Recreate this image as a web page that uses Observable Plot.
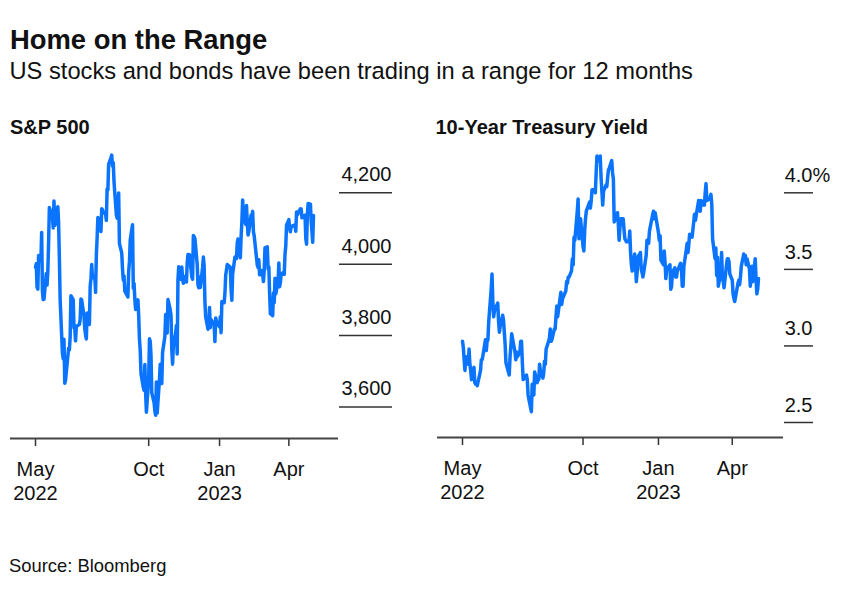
<!DOCTYPE html>
<html><head><meta charset="utf-8">
<script src="https://cdn.jsdelivr.net/npm/d3@7"></script>
<script src="https://cdn.jsdelivr.net/npm/@observablehq/plot@0.6"></script>
<style>
body{margin:0;background:#fff;}
#wrap{position:relative;width:850px;height:593px;font-family:"Liberation Sans",Arial,Helvetica,sans-serif;color:#111;overflow:hidden;}
.t{position:absolute;line-height:1;white-space:nowrap;}
.c{position:absolute;}
</style></head><body>
<div id="wrap">
<div class="t" style="left:10px;top:26.1px;font-size:27.4px;font-weight:bold">Home on the Range</div>
<div class="t" style="left:9.5px;top:59.9px;font-size:23.7px">US stocks and bonds have been trading in a range for 12 months</div>
<div class="t" style="left:10px;top:117.1px;font-size:20px;font-weight:bold">S&amp;P 500</div>
<div class="t" style="left:435.5px;top:117.1px;font-size:20px;font-weight:bold">10-Year Treasury Yield</div>
<div class="c" id="left" style="left:0;top:140px"></div>
<div class="c" id="right" style="left:420px;top:140px"></div>
<div class="t" style="left:9px;top:557.4px;font-size:18.4px">Source: Bloomberg</div>
</div>
<script>
const dates = [
"2022-05-09","2022-05-10","2022-05-11","2022-05-12","2022-05-13","2022-05-16","2022-05-17","2022-05-18","2022-05-19","2022-05-20","2022-05-23","2022-05-24","2022-05-25","2022-05-26","2022-05-27","2022-05-31",
"2022-06-01","2022-06-02","2022-06-03","2022-06-06","2022-06-07","2022-06-08","2022-06-09","2022-06-10","2022-06-13","2022-06-14","2022-06-15","2022-06-16","2022-06-17","2022-06-21","2022-06-22","2022-06-23","2022-06-24","2022-06-27","2022-06-28","2022-06-29","2022-06-30",
"2022-07-01","2022-07-05","2022-07-06","2022-07-07","2022-07-08","2022-07-11","2022-07-12","2022-07-13","2022-07-14","2022-07-15","2022-07-18","2022-07-19","2022-07-20","2022-07-21","2022-07-22","2022-07-25","2022-07-26","2022-07-27","2022-07-28","2022-07-29",
"2022-08-01","2022-08-02","2022-08-03","2022-08-04","2022-08-05","2022-08-08","2022-08-09","2022-08-10","2022-08-11","2022-08-12","2022-08-15","2022-08-16","2022-08-17","2022-08-18","2022-08-19","2022-08-22","2022-08-23","2022-08-24","2022-08-25","2022-08-26","2022-08-29","2022-08-30","2022-08-31",
"2022-09-01","2022-09-02","2022-09-06","2022-09-07","2022-09-08","2022-09-09","2022-09-12","2022-09-13","2022-09-14","2022-09-15","2022-09-16","2022-09-19","2022-09-20","2022-09-21","2022-09-22","2022-09-23","2022-09-26","2022-09-27","2022-09-28","2022-09-29","2022-09-30",
"2022-10-03","2022-10-04","2022-10-05","2022-10-06","2022-10-07","2022-10-10","2022-10-11","2022-10-12","2022-10-13","2022-10-14","2022-10-17","2022-10-18","2022-10-19","2022-10-20","2022-10-21","2022-10-24","2022-10-25","2022-10-26","2022-10-27","2022-10-28","2022-10-31",
"2022-11-01","2022-11-02","2022-11-03","2022-11-04","2022-11-07","2022-11-08","2022-11-09","2022-11-10","2022-11-11","2022-11-14","2022-11-15","2022-11-16","2022-11-17","2022-11-18","2022-11-21","2022-11-22","2022-11-23","2022-11-25","2022-11-28","2022-11-29","2022-11-30",
"2022-12-01","2022-12-02","2022-12-05","2022-12-06","2022-12-07","2022-12-08","2022-12-09","2022-12-12","2022-12-13","2022-12-14","2022-12-15","2022-12-16","2022-12-19","2022-12-20","2022-12-21","2022-12-22","2022-12-23","2022-12-27","2022-12-28","2022-12-29","2022-12-30",
"2023-01-03","2023-01-04","2023-01-05","2023-01-06","2023-01-09","2023-01-10","2023-01-11","2023-01-12","2023-01-13","2023-01-17","2023-01-18","2023-01-19","2023-01-20","2023-01-23","2023-01-24","2023-01-25","2023-01-26","2023-01-27","2023-01-30","2023-01-31",
"2023-02-01","2023-02-02","2023-02-03","2023-02-06","2023-02-07","2023-02-08","2023-02-09","2023-02-10","2023-02-13","2023-02-14","2023-02-15","2023-02-16","2023-02-17","2023-02-21","2023-02-22","2023-02-23","2023-02-24","2023-02-27","2023-02-28",
"2023-03-01","2023-03-02","2023-03-03","2023-03-06","2023-03-07","2023-03-08","2023-03-09","2023-03-10","2023-03-13","2023-03-14","2023-03-15","2023-03-16","2023-03-17","2023-03-20","2023-03-21","2023-03-22","2023-03-23","2023-03-24","2023-03-27","2023-03-28","2023-03-29","2023-03-30","2023-03-31",
"2023-04-03","2023-04-04","2023-04-05","2023-04-06","2023-04-10","2023-04-11","2023-04-12","2023-04-13","2023-04-14","2023-04-17","2023-04-18","2023-04-19","2023-04-20","2023-04-21","2023-04-24","2023-04-25","2023-04-26","2023-04-27","2023-04-28",
"2023-05-01","2023-05-02","2023-05-03","2023-05-04","2023-05-05"
];
const spx = [
3991.24,4001.05,3935.18,3930.08,4023.89,4008.01,4088.85,3923.68,3900.79,3901.36,3973.75,3941.48,3978.73,4057.84,4158.24,4132.15,
4101.23,4176.82,4108.54,4121.43,4160.68,4115.77,4017.82,3900.86,3749.63,3735.48,3789.99,3666.77,3674.84,3764.79,3759.89,3795.73,3911.74,3900.11,3821.55,3818.83,3785.38,
3825.33,3831.39,3845.08,3902.62,3899.38,3854.43,3818.80,3801.78,3790.38,3863.16,3830.85,3936.69,3959.90,3998.95,3961.63,3966.84,3921.05,4023.61,4072.43,4130.29,
4118.63,4091.19,4155.17,4151.94,4145.19,4140.06,4122.47,4210.24,4207.27,4280.15,4297.14,4305.20,4274.04,4283.74,4228.48,4137.99,4128.73,4140.77,4199.12,4057.66,4030.61,3986.16,3955.00,
3966.85,3924.26,3908.19,3979.87,4006.18,4067.36,4110.41,3932.69,3946.01,3901.35,3873.33,3899.89,3855.93,3789.93,3757.99,3693.23,3655.04,3647.29,3719.04,3640.47,3585.62,
3678.43,3790.93,3783.28,3744.52,3639.66,3612.39,3588.84,3577.03,3669.91,3583.07,3677.95,3719.98,3695.16,3665.78,3752.75,3797.34,3859.11,3830.60,3807.30,3901.06,3871.98,
3856.10,3759.69,3719.89,3770.55,3806.80,3828.11,3748.57,3956.37,3992.93,3957.25,3991.73,3958.79,3946.56,3965.34,3949.94,4003.58,4027.26,4026.12,3963.94,3957.63,4080.11,
4076.57,4071.70,3998.84,3941.26,3933.92,3963.51,3934.38,3990.56,4019.65,3995.32,3895.75,3852.36,3817.66,3821.62,3878.44,3822.39,3844.82,3829.25,3783.22,3849.28,3839.50,
3824.14,3852.97,3808.10,3895.08,3892.09,3919.25,3969.61,3983.17,3999.09,3990.97,3928.86,3898.85,3972.61,4019.81,4016.95,4016.22,4060.43,4070.56,4017.77,4076.60,
4119.21,4179.76,4136.48,4111.08,4164.00,4117.86,4081.50,4090.46,4137.29,4136.13,4147.60,4090.41,4079.09,3997.34,3991.05,4012.32,3970.04,3982.24,3970.15,
3951.39,3981.35,4045.64,4048.42,3986.37,3992.01,3918.32,3861.59,3855.76,3919.29,3891.93,3960.28,3916.64,3951.57,4002.87,3936.97,3948.72,3970.99,3977.53,3971.27,4027.81,4050.83,4109.31,
4124.51,4100.60,4090.38,4105.02,4109.11,4108.94,4091.95,4146.22,4137.64,4151.32,4154.87,4154.52,4129.79,4133.52,4137.04,4071.63,4055.99,4135.35,4169.48,
4167.87,4119.58,4090.75,4061.22,4136.25
];
const ust10 = [
3.03,2.99,2.91,2.84,2.93,2.88,2.98,2.88,2.84,2.78,2.86,2.76,2.75,2.75,2.74,2.84,
2.91,2.91,2.94,3.04,2.97,3.03,3.04,3.16,3.37,3.47,3.29,3.19,3.23,3.28,3.16,3.09,3.13,3.20,3.17,3.09,3.01,
2.89,2.81,2.93,3.00,3.08,2.99,2.96,2.91,2.96,2.93,2.96,3.03,3.03,2.89,2.78,2.80,2.81,2.78,2.68,2.65,
2.57,2.75,2.71,2.68,2.83,2.76,2.79,2.78,2.88,2.84,2.79,2.82,2.90,2.88,2.98,3.03,3.05,3.11,3.03,3.04,3.11,3.11,3.19,
3.26,3.19,3.35,3.27,3.31,3.32,3.36,3.42,3.41,3.45,3.45,3.49,3.57,3.53,3.71,3.69,3.88,3.96,3.70,3.76,3.83,
3.65,3.62,3.75,3.83,3.88,null,3.94,3.90,3.95,4.02,4.02,4.00,4.13,4.24,4.21,4.24,4.10,4.01,3.92,4.01,4.05,
4.04,4.10,4.15,4.16,4.21,4.13,4.09,3.81,null,3.87,3.80,3.69,3.77,3.83,3.83,3.76,3.70,3.68,3.68,3.75,3.61,
3.53,3.49,3.60,3.53,3.42,3.48,3.58,3.61,3.50,3.48,3.45,3.48,3.59,3.69,3.67,3.67,3.75,3.86,3.88,3.83,3.87,
3.74,3.69,3.72,3.56,3.53,3.62,3.55,3.44,3.50,3.53,3.37,3.39,3.48,3.51,3.45,3.45,3.49,3.50,3.54,3.51,
3.39,3.39,3.52,3.63,3.67,3.61,3.66,3.73,3.71,3.76,3.81,3.86,3.82,3.95,3.92,3.88,3.95,3.92,3.92,
4.00,4.06,3.95,3.96,3.97,3.99,3.93,3.70,3.57,3.64,3.46,3.58,3.39,3.48,3.61,3.44,3.42,3.38,3.53,3.57,3.57,3.55,3.47,
3.43,3.34,3.31,3.29,3.41,3.43,3.40,3.45,3.52,3.60,3.58,3.59,3.53,3.57,3.50,3.39,3.45,3.52,3.42,
3.57,3.44,3.34,3.37,3.44
];
const xTickDates = ["2022-05-09","2022-10-03","2023-01-03","2023-04-03"];
const xTickLabels = ["May\n2022","Oct","Jan\n2023","Apr"];
const spxTicks = [3600, 3800, 4000, 4200];
const spxTickLabels = ["3,600","3,800","4,000","4,200"];
const ustTicks = [2.5, 3.0, 3.5, 4.0];
const ustTickLabels = ["2.5","3.0","3.5","4.0"];
const ustTopSuffix = ["%"];

const parse = d3.utcParse("%Y-%m-%d");
const spxRows = dates.map((d, i) => ({date: parse(d), value: spx[i]}));
const ustRows = dates.map((d, i) => ({date: parse(d), value: ust10[i]})).filter(r => r.value != null);
const tickDates = xTickDates.map(parse);
const fmtX = d => xTickLabels[tickDates.findIndex(t => +t === +d)];
const LINE = "#0a74ff";
const INK = "#333";

function panel({rows, width, marginLeft, marginRight, marginBottom, yDomain, yTicks, yLabels, ySize, yDy, extra = []}) {
  return Plot.plot({
    width, height: 370, marginTop: 5, marginBottom, marginLeft, marginRight,
    style: {background: "transparent", fontFamily: "'Liberation Sans', Arial, Helvetica, sans-serif", fontSize: "20px", color: "#111", overflow: "visible"},
    x: {type: "utc", inset: 25},
    y: {domain: yDomain},
    marks: [
      Plot.axisX(tickDates, {anchor: "bottom", tickSize: 8, tickPadding: 12, tickFormat: fmtX, lineHeight: 1.2, stroke: INK, strokeWidth: 1.5, label: null}),
      Plot.ruleY([yDomain[0]], {stroke: "#444", strokeWidth: 2}),
      Plot.axisY(yTicks, {anchor: "right", tickSize: ySize, fill: "none", stroke: INK, strokeWidth: 1.5, label: null}),
      Plot.axisY(yTicks, {anchor: "right", tickSize: ySize, tickPadding: 0, stroke: "none", textAnchor: "end", dy: yDy, tickFormat: d => yLabels[yTicks.indexOf(d)], label: null}),
      Plot.line(rows, {x: "date", y: "value", stroke: LINE, strokeWidth: 3.5}),
      ...extra
    ]
  });
}

document.getElementById("left").append(panel({
  rows: spxRows, width: 400, marginLeft: 10, marginRight: 62, marginBottom: 72,
  yDomain: [3512, 4332], yTicks: spxTicks, yLabels: spxTickLabels, ySize: 53, yDy: -18
}));
document.getElementById("right").append(panel({
  rows: ustRows, width: 420, marginLeft: 17, marginRight: 57, marginBottom: 73,
  yDomain: [2.402, 4.309], yTicks: ustTicks, yLabels: ustTickLabels, ySize: 29, yDy: -17,
  extra: [Plot.text(ustTicks.slice(-1), {y: d => d, text: () => ustTopSuffix[0], frameAnchor: "right", dx: 29, dy: -17, textAnchor: "start"})]
}));
</script>
</body></html>
